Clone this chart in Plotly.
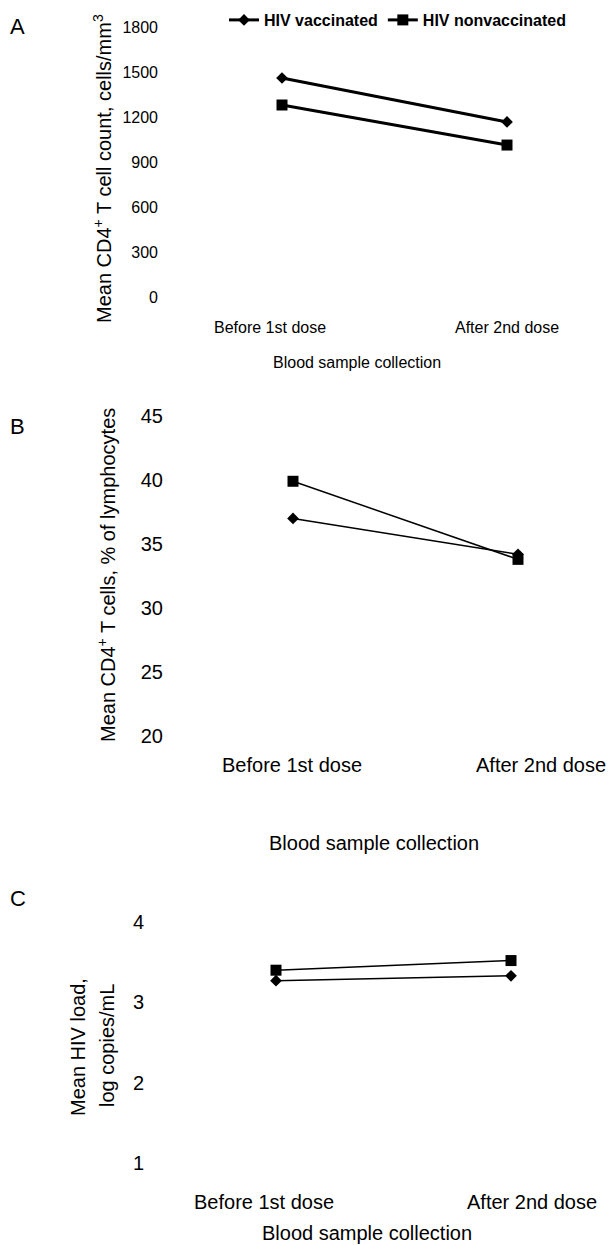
import plotly.graph_objects as go

# ---------------- data ----------------
CATEGORIES = ["Before 1st dose", "After 2nd dose"]
SERIES_NAMES = ["HIV vaccinated", "HIV nonvaccinated"]

A_VACC = [1460, 1167]
A_NONVACC = [1280, 1013]
A_TICKS = [0, 300, 600, 900, 1200, 1500, 1800]

B_VACC = [37.0, 34.2]
B_NONVACC = [39.9, 33.8]
B_TICKS = [20, 25, 30, 35, 40, 45]

C_VACC = [3.27, 3.33]
C_NONVACC = [3.40, 3.52]
C_TICKS = [1, 2, 3, 4]

# ---------------- layout helpers ----------------
OFF = 8                      # page body margin
W, H = 616 - OFF, 1245 - OFF
SANS = "Liberation Sans, Arial, sans-serif"


def fx(px):
    return (px - OFF) / W


def fy(py):
    return 1 - (py - OFF) / H


def xrange_for(left_px, right_px, p0, p1):
    scale = p1 - p0
    return [-(p0 - left_px) / scale, 1 + (right_px - p1) / scale]


RIGHT = 608

fig = go.Figure()

panels = [
    dict(key="", vacc=A_VACC, non=A_NONVACC, ticks=A_TICKS, top=27, bot=297,
         left=159, p0=282, p1=507, lw=3, tsize=16, showlegend=True),
    dict(key="2", vacc=B_VACC, non=B_NONVACC, ticks=B_TICKS, top=416, bot=736,
         left=164, p0=293, p1=518, lw=1.5, tsize=20, showlegend=False),
    dict(key="3", vacc=C_VACC, non=C_NONVACC, ticks=C_TICKS, top=922, bot=1163,
         left=145, p0=276, p1=511, lw=1.5, tsize=20, showlegend=False),
]

layout_axes = {}
for p in panels:
    k = p["key"]
    fig.add_trace(go.Scatter(
        x=CATEGORIES, y=p["vacc"], name=SERIES_NAMES[0], mode="lines+markers",
        line=dict(color="black", width=p["lw"]),
        marker=dict(symbol="diamond", size=9, color="black"),
        xaxis="x" + k, yaxis="y" + k, showlegend=p["showlegend"], cliponaxis=False))
    fig.add_trace(go.Scatter(
        x=CATEGORIES, y=p["non"], name=SERIES_NAMES[1], mode="lines+markers",
        line=dict(color="black", width=p["lw"]),
        marker=dict(symbol="square", size=11, color="black"),
        xaxis="x" + k, yaxis="y" + k, showlegend=p["showlegend"], cliponaxis=False))
    layout_axes["xaxis" + k] = dict(
        domain=[fx(p["left"]), fx(RIGHT)], anchor="y" + k, type="category",
        categoryorder="array", categoryarray=CATEGORIES,
        range=xrange_for(p["left"], RIGHT, p["p0"], p["p1"]),
        showticklabels=False, showgrid=False, zeroline=False, showline=False, ticks="")
    layout_axes["yaxis" + k] = dict(
        domain=[fy(p["bot"]), fy(p["top"])], anchor="x" + k,
        range=[p["ticks"][0], p["ticks"][-1]], tickmode="array", tickvals=p["ticks"],
        ticktext=[str(t) for t in p["ticks"]],
        tickfont=dict(family=SANS, size=p["tsize"], color="black"),
        showgrid=False, zeroline=False, showline=False, ticks="")

annotations = []


def ann(text, x, y, size, angle=0):
    annotations.append(dict(
        text=text, x=x, y=y, xref="paper", yref="paper",
        xanchor="center", yanchor="middle", showarrow=False, textangle=angle,
        font=dict(family=SANS, size=size, color="black")))


# panel letters
ann("A", fx(17), fy(27), 22)
ann("B", fx(17), fy(427), 22)
ann("C", fx(18), fy(898), 22)

# y titles
ann("Mean CD4<sup>+</sup> T cell count, cells/mm<sup>3</sup>", fx(103), fy(169), 20, angle=-90)
ann("Mean CD4<sup>+</sup> T cells, % of lymphocytes", fx(107), fy(575), 20, angle=-90)
ann("Mean HIV load,", fx(78), fy(1047), 20, angle=-90)
ann("log copies/mL", fx(107), fy(1046), 20, angle=-90)

# category labels (positioned on the category axis)
cat_specs = [
    ("x", 327, [-12, 0], 16),
    ("x2", 765, [-1, 23], 20),
    ("x3", 1202, [-12, 21], 20),
]
for xref, ypx, shifts, sz in cat_specs:
    for cat, sh in zip(CATEGORIES, shifts):
        annotations.append(dict(
            text=cat, x=cat, y=fy(ypx), xref=xref, yref="paper", xanchor="center",
            yanchor="middle", showarrow=False, xshift=sh,
            font=dict(family=SANS, size=sz, color="black")))

# x titles
ann("Blood sample collection", fx(357), fy(362), 16)
ann("Blood sample collection", fx(374), fy(843), 20)
ann("Blood sample collection", fx(367), fy(1233), 20)

fig.update_layout(
    width=W, height=H, autosize=False,
    margin=dict(l=0, r=0, t=0, b=0, autoexpand=False),
    paper_bgcolor="white", plot_bgcolor="white",
    annotations=annotations,
    showlegend=True,
    legend=dict(orientation="h", x=fx(224), y=fy(20), xanchor="left", yanchor="middle",
                font=dict(family=SANS, size=16, color="black", weight="bold"),
                bgcolor="rgba(0,0,0,0)", borderwidth=0, itemclick=False,
                tracegroupgap=0),
    **layout_axes,
)

fig.write_html("out.html")
